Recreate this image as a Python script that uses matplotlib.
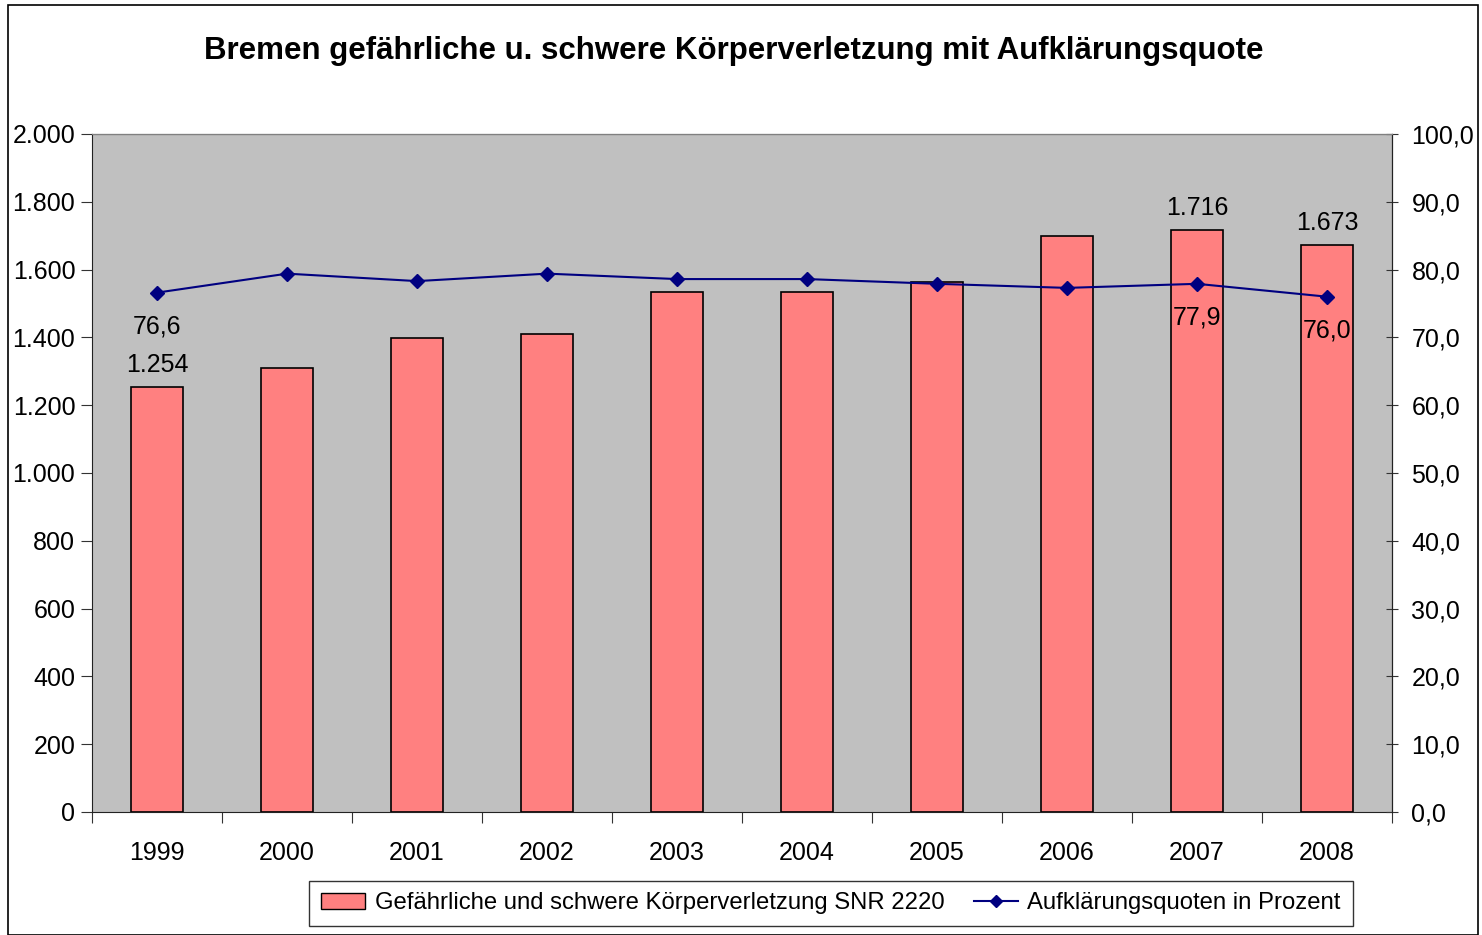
import numpy as np
import matplotlib.pyplot as plt
from matplotlib.patches import Rectangle
from matplotlib.ticker import FuncFormatter

plt.rcParams['font.family'] = ['Liberation Sans', 'DejaVu Sans']

years = ['1999', '2000', '2001', '2002', '2003', '2004', '2005', '2006', '2007', '2008']
faelle = [1254, 1310, 1398, 1410, 1534, 1534, 1563, 1699, 1716, 1673]
quote = [76.6, 79.4, 78.3, 79.4, 78.6, 78.6, 77.9, 77.3, 77.9, 76.0]
bar_labels = {0: '1.254', 8: '1.716', 9: '1.673'}
line_labels = {0: '76,6', 8: '77,9', 9: '76,0'}

fig = plt.figure(figsize=(14.82, 9.35), dpi=100)
ax = fig.add_axes([0.0621, 0.1316, 0.8772, 0.7251])
ax2 = ax.twinx()

x = np.arange(len(years))
ax.bar(x, faelle, width=0.40, color='#FF8080', edgecolor='black', linewidth=1.2, zorder=2)
ax2.plot(x, quote, color='#000080', marker='D', markersize=7, linewidth=1.5, zorder=3)

ax.set_facecolor('#C0C0C0')
ax.set_xlim(-0.5, len(years) - 0.5)
ax.set_ylim(0, 2000)
ax2.set_ylim(0, 100)
ax.set_yticks(np.arange(0, 2001, 200))
ax2.set_yticks(np.arange(0, 101, 10))

def de_int(v, pos):
    return f'{int(v):,}'.replace(',', '.')

def de_dec(v, pos):
    return f'{v:.1f}'.replace('.', ',')

ax.yaxis.set_major_formatter(FuncFormatter(de_int))
ax2.yaxis.set_major_formatter(FuncFormatter(de_dec))

ax.set_xticks(np.arange(-0.5, len(years), 1))
ax.set_xticklabels([])
ax.set_xticks(x, minor=True)
ax.set_xticklabels(years, minor=True)
ax.tick_params(axis='x', which='major', length=8, direction='out', color='#333333')
ax.tick_params(axis='x', which='minor', length=0, labelsize=18, pad=21)
ax.tick_params(axis='y', length=8, direction='out', labelsize=18, pad=4, color='#333333')
ax2.tick_params(axis='y', length=8, direction='inout', labelsize=18, pad=10, color='#333333')

for sp in ['left', 'bottom']:
    ax.spines[sp].set_color('#222222')
ax2.spines['right'].set_color('#222222')
ax2.spines['top'].set_color('#808080')
ax2.spines['left'].set_visible(False)
ax2.spines['bottom'].set_visible(False)

for i, t in bar_labels.items():
    ax.text(x[i], faelle[i] + 30, t, ha='center', va='bottom', fontsize=18)
for i, t in line_labels.items():
    ax2.text(x[i], quote[i] - 3.2, t, ha='center', va='top', fontsize=18)

fig.suptitle('Bremen gefährliche u. schwere Körperverletzung mit Aufklärungsquote',
             x=0.495, y=0.961, fontsize=22.5, fontweight='bold')

h1 = Rectangle((0, 0), 1, 1, facecolor='#FF8080', edgecolor='black')
h2, = ax2.plot([], [], color='#000080', marker='D', markersize=6, linewidth=1.5)
leg = fig.legend([h1, h2],
                 ['Gefährliche und schwere Körperverletzung SNR 2220', 'Aufklärungsquoten in Prozent'],
                 loc='center', bbox_to_anchor=(0.5607, 0.0337), ncol=2, fontsize=17.2,
                 frameon=True, fancybox=False, edgecolor='black', handlelength=1.85,
                 handletextpad=0.38, columnspacing=1.25, borderpad=0.5, borderaxespad=0)
leg.get_frame().set_linewidth(1.0)

fig.patches.append(Rectangle((8 / 1482, 0), 1470 / 1482, 930 / 935, transform=fig.transFigure,
                             fill=False, edgecolor='black', linewidth=1.2))

fig.savefig('out.png', dpi=100)
